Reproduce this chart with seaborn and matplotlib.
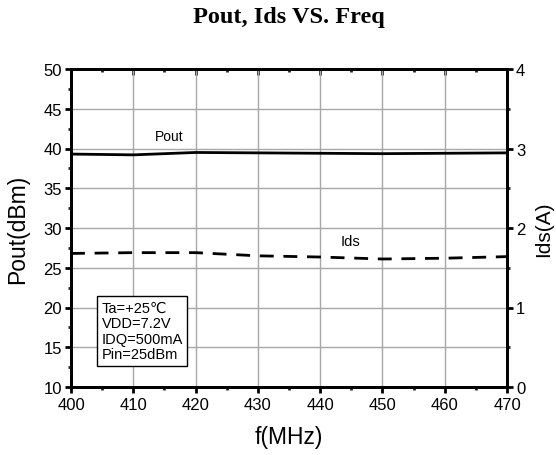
import matplotlib
matplotlib.use("Agg")
import matplotlib.pyplot as plt
import seaborn as sns
import pandas as pd
from matplotlib.ticker import MultipleLocator

freq = [400, 410, 420, 430, 440, 450, 460, 470]
pout = [39.3, 39.2, 39.5, 39.45, 39.4, 39.35, 39.4, 39.45]
ids = [1.68, 1.69, 1.69, 1.65, 1.635, 1.61, 1.62, 1.64]
conditions = ["Ta=+25\u2103", "VDD=7.2V", "IDQ=500mA", "Pin=25dBm"]

df = pd.DataFrame({"freq": freq, "pout": pout, "ids": ids})

sns.set_style("white")
plt.rcParams["font.family"] = ["Liberation Sans", "DejaVu Sans", "Noto Sans CJK SC"]
plt.rcParams["text.color"] = "black"
plt.rcParams["axes.labelcolor"] = "black"

fig = plt.figure(figsize=(5.56, 4.56), dpi=100)
ax = fig.add_axes([71/556, 1-388/456, (507-71)/556, (388-70)/456])
ax2 = ax.twinx()

sns.lineplot(data=df, x="freq", y="pout", ax=ax, color="black", lw=2)
sns.lineplot(data=df, x="freq", y="ids", ax=ax2, color="black", lw=2,
             linestyle=(0, (5, 3.5)))

ax.set_xlim(400, 470)
ax.set_ylim(10, 50)
ax2.set_ylim(0, 4)
ax.xaxis.set_major_locator(MultipleLocator(10))
ax.xaxis.set_minor_locator(MultipleLocator(5))
ax.yaxis.set_major_locator(MultipleLocator(5))
ax.yaxis.set_minor_locator(MultipleLocator(2.5))
ax2.yaxis.set_major_locator(MultipleLocator(1))
ax2.yaxis.set_minor_locator(MultipleLocator(0.5))

ax.grid(True, which="major", color="#a8a8a8", lw=1)
ax2.grid(False)

for a in (ax, ax2):
    for s in a.spines.values():
        s.set_linewidth(2)
        s.set_color("black")
        s.set_visible(True)

ax.tick_params(axis="both", which="major", direction="out", length=4.5, width=2,
               labelsize=12, colors="black", bottom=True, left=True, top=False, right=False, pad=2)
ax.tick_params(axis="x", which="major", pad=3)
ax.tick_params(axis="both", which="minor", direction="out", length=2.5, width=2,
               bottom=True, left=True, top=False, right=False)
ax2.tick_params(axis="y", which="major", direction="out", length=4.5, width=2,
                labelsize=12, colors="black", right=True, pad=2)
ax2.tick_params(axis="y", which="minor", direction="out", length=2.5, width=2, right=True)

top = ax.secondary_xaxis("top")
top.xaxis.set_major_locator(MultipleLocator(10))
top.xaxis.set_minor_locator(MultipleLocator(5))
top.tick_params(axis="x", which="major", direction="in", length=4.5, width=2, labeltop=False)
top.tick_params(axis="x", which="minor", direction="in", length=2.5, width=2)
top.spines["top"].set_linewidth(2)

ax.set_xlabel("f(MHz)", fontsize=16.5, labelpad=9, color="black")
ax.set_ylabel("Pout(dBm)", fontsize=16.5, labelpad=10, color="black")
ax2.set_ylabel("Ids(A)", fontsize=15, labelpad=6, color="black")

ax.text(415.8, 41.6, "Pout", fontsize=10, ha="center", va="center", color="black")
ax2.text(444.8, 1.84, "Ids", fontsize=10.5, ha="center", va="center", color="black")

ax.text(0.07, 0.272, "\n".join(conditions), transform=ax.transAxes, fontsize=10.5,
        ha="left", va="top", linespacing=1.15, color="black",
        bbox=dict(boxstyle="square,pad=0.3", fc="white", ec="black", lw=1))

fig.text(0.5 * (71 + 507) / 556, 1 - 18/456, "Pout, Ids VS. Freq", fontsize=17.5,
         fontweight="bold", family="Liberation Serif", ha="center", va="center",
         color="black")

fig.savefig("out.png", dpi=100)
